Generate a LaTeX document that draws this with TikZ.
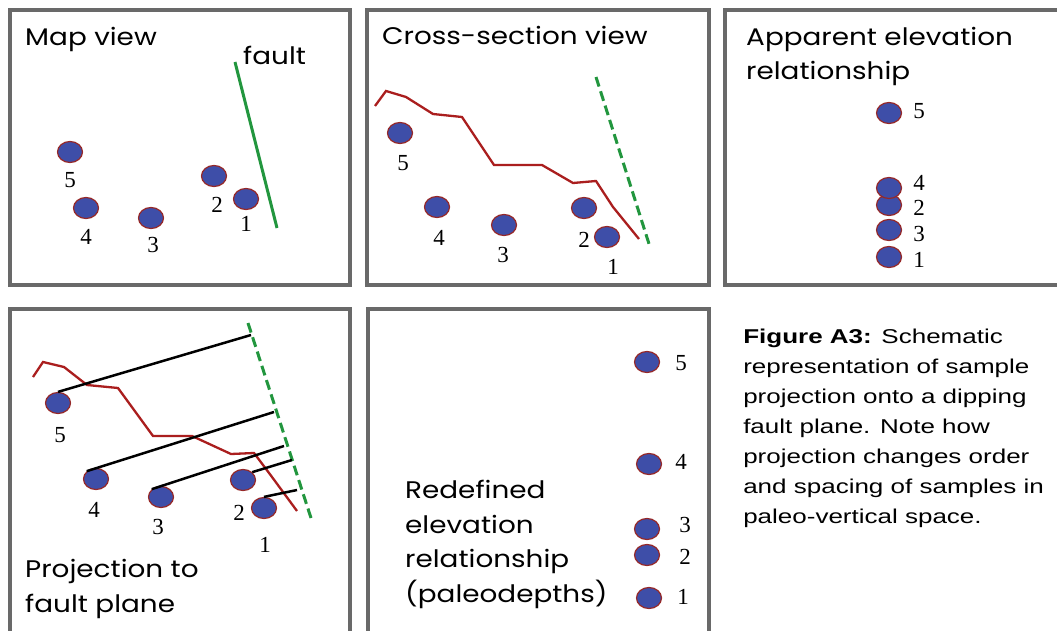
\documentclass[tikz,border=0pt]{standalone}
\usepackage{fontspec}
\setmainfont{Liberation Serif}
\newfontfamily\titlefont{Poppins}
\newfontfamily\capfont{Liberation Sans}
\usetikzlibrary{shapes.geometric}

\definecolor{dotblue}{RGB}{62,78,168}
\definecolor{dotrim}{RGB}{150,40,40}
\definecolor{crest}{RGB}{170,30,30}
\definecolor{faultgreen}{RGB}{34,150,62}
\definecolor{framegray}{RGB}{105,105,105}

\begin{document}
\begin{tikzpicture}[
    x=1pt, y=-1pt,
    panel/.style={
        draw=framegray,
        line width=4pt
    },
    sample/.style={
        ellipse,
        draw=dotrim,
        fill=dotblue,
        line width=1.2pt,
        minimum width=25pt,
        minimum height=21pt,
        inner sep=0pt
    },
    num/.style={
        font=\fontsize{23}{23}\selectfont,
        inner sep=0pt
    },
    heading/.style={
        font=\titlefont\fontsize{24}{34.5}\selectfont,
        align=left,
        inner sep=0pt,
        xscale=1.16,
        anchor=base west
    },
    fault/.style={faultgreen, line width=3pt},
    plane/.style={fault, dash pattern=on 10pt off 5pt},
    surface/.style={crest, line width=2.3pt},
    proj/.style={black, line width=2.5pt}
]

\path[fill=white] (0,0) rectangle (1057,631);
\clip (0,0) rectangle (1057,631);

% Panel frames
\draw[panel] (10,10) rectangle (350,285);
\draw[panel] (367,10) rectangle (709,285);
\draw[panel] (725,10) rectangle (1075,285);
\draw[panel] (10,309) rectangle (350,650);
\draw[panel] (368,309) rectangle (709,650);

% Map view
\node (tmap) [heading] at (25,46) {Map view};
\node (tfault) [heading] at (243,65) {fault};
\coordinate (mfa) at (235,62);
\coordinate (mfb) at (277,228);
\draw[fault] (mfa) -- (mfb);

\node (m5) [sample] at (70,152) {};
\node (m4) [sample] at (86,208) {};
\node (m3) [sample] at (151,218) {};
\node (m2) [sample] at (214,176) {};
\node (m1) [sample] at (246,199) {};
\node (lm5) [num] at (70,180) {5};
\node (lm4) [num] at (86,237) {4};
\node (lm3) [num] at (153,245) {3};
\node (lm2) [num] at (217,205) {2};
\node (lm1) [num] at (246,224) {1};

% Cross-section view
\node (tcross) [heading] at (382,45) {Cross-section view};
\draw[surface] (375,106) -- (386,91) -- (406,97) -- (433,114) -- (462,117)
    -- (494,165) -- (542,165) -- (573,183) -- (596,181) -- (613,207) -- (639,239);
\coordinate (cfa) at (596,77);
\coordinate (cfb) at (650,247);
\draw[plane] (cfa) -- (cfb);

\node (c5) [sample] at (400,133) {};
\node (c4) [sample] at (437,207) {};
\node (c3) [sample] at (504,225) {};
\node (c2) [sample] at (584,208) {};
\node (c1) [sample] at (607,237) {};
\node (lc5) [num] at (403,163) {5};
\node (lc4) [num] at (439,238) {4};
\node (lc3) [num] at (503,255) {3};
\node (lc2) [num] at (584,240) {2};
\node (lc1) [num] at (613,267) {1};

% Apparent elevation
\node (tapp) [heading] at (746,80) {Apparent elevation\\relationship};
\node (a5) [sample] at (889,113) {};
\node (a2) [sample] at (889,205) {};
\node (a4) [sample] at (889,188) {};
\node (a3) [sample] at (889,230) {};
\node (a1) [sample] at (889,257) {};
\node (la5) [num] at (919,111) {5};
\node (la4) [num] at (919,183) {4};
\node (la2) [num] at (919,208) {2};
\node (la3) [num] at (919,234) {3};
\node (la1) [num] at (919,260) {1};

% Projection to fault plane
\node (tproj) [heading] at (25,612) {Projection to\\fault plane};
\draw[surface] (33,377) -- (43,362) -- (64,367) -- (87,385) -- (118,388)
    -- (153,436) -- (192,436) -- (231,454) -- (254,453) -- (272,477) -- (297,511);
\coordinate (pfa) at (248,323);
\coordinate (pfb) at (311,518);
\draw[plane] (pfa) -- (pfb);

\node (p5) [sample] at (58,403) {};
\node (p4) [sample] at (96,479) {};
\node (p3) [sample] at (161,497) {};
\node (p2) [sample] at (243,480) {};
\node (p1) [sample] at (264,508) {};
\node (lp5) [num] at (60,435) {5};
\node (lp4) [num] at (94,510) {4};
\node (lp3) [num] at (158,527) {3};
\node (lp2) [num] at (239,513) {2};
\node (lp1) [num] at (265,545) {1};

\coordinate (e5) at (251,335);
\coordinate (e4) at (274,412);
\coordinate (e3) at (284,446);
\coordinate (e2) at (292,460);
\coordinate (e1) at (297,490);
\draw[proj] (p5.north) -- (e5);
\draw[proj] (p4.north west) -- (e4);
\draw[proj] (p3.north west) -- (e3);
\draw[proj] (p2.north east) -- (e2);
\draw[proj] (p1.north) -- (e1);

% Redefined elevation
\node (tred) [heading] at (405,602) {Redefined\\elevation\\relationship\\(paleodepths)};
\node (r5) [sample] at (647,362) {};
\node (r4) [sample] at (649,464) {};
\node (r3) [sample] at (647,529) {};
\node (r2) [sample] at (647,555) {};
\node (r1) [sample] at (649,598) {};
\node (lr5) [num] at (681,363) {5};
\node (lr4) [num] at (681,462) {4};
\node (lr3) [num] at (685,525) {3};
\node (lr2) [num] at (685,557) {2};
\node (lr1) [num] at (683,597) {1};

% Caption
\node (cap) [font=\capfont\fontsize{20}{30}\selectfont, align=left, inner sep=0pt,
    anchor=base west, xscale=1.3] at (743,523)
    {\textbf{Figure A3:} Schematic\\representation of sample\\projection onto a dipping\\fault plane. Note how\\projection changes order\\and spacing of samples in\\paleo-vertical space.};

\end{tikzpicture}
\end{document}
